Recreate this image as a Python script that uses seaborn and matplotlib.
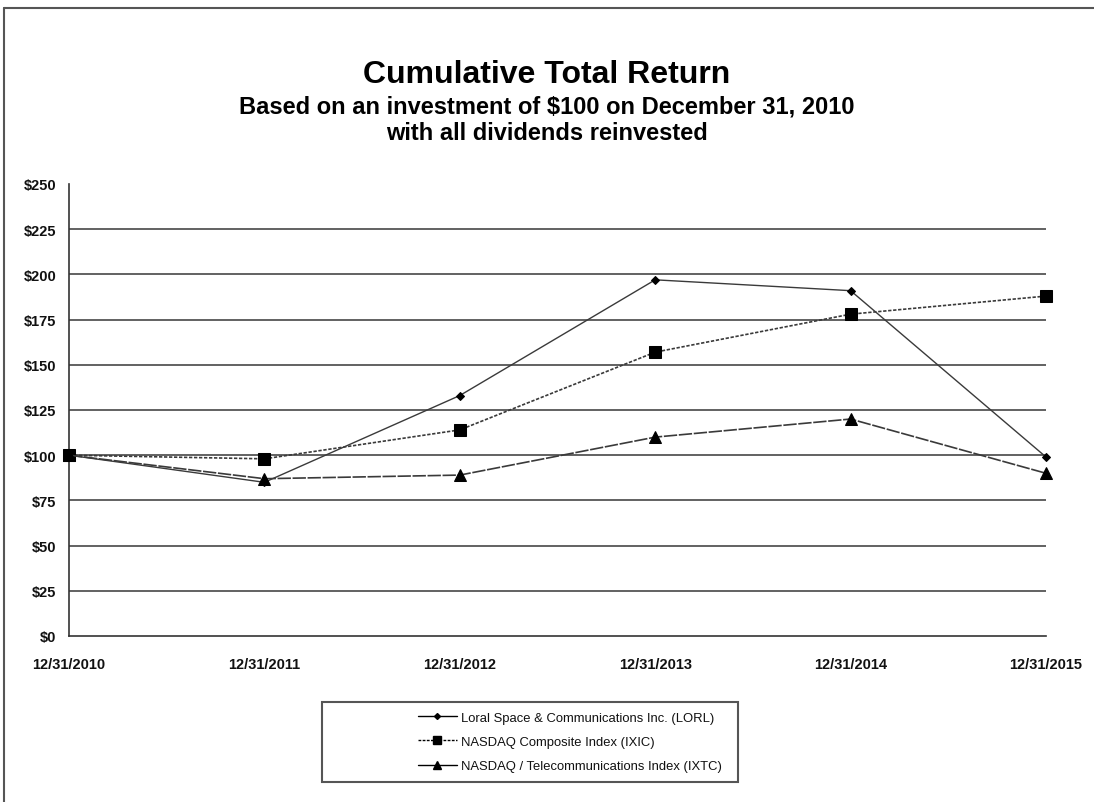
import matplotlib
matplotlib.use("Agg")
import matplotlib.pyplot as plt
import seaborn as sns
import pandas as pd
from matplotlib.patches import Rectangle
from matplotlib.lines import Line2D

dates = ['12/31/2010', '12/31/2011', '12/31/2012', '12/31/2013', '12/31/2014', '12/31/2015']
lorl = [100, 85, 133, 197, 191, 99]
ixic = [100, 98, 114, 157, 178, 188]
ixtc = [100, 87, 89, 110, 120, 90]
names = ['Loral Space & Communications Inc. (LORL)',
         'NASDAQ Composite Index (IXIC)',
         'NASDAQ / Telecommunications Index (IXTC)']
yticks = [0, 25, 50, 75, 100, 125, 150, 175, 200, 225, 250]

sns.set_theme(style="white")
plt.rcParams['font.family'] = ['Liberation Sans', 'DejaVu Sans']
plt.rcParams['text.color'] = 'black'

df = pd.DataFrame({'pos': range(len(dates)), 'LORL': lorl, 'IXIC': ixic, 'IXTC': ixtc})

fig = plt.figure(figsize=(10.94, 8.03), dpi=100)
ax = fig.add_axes([69/1094, 1-637/803, (1046-69)/1094, (637-185)/803])

# gridlines
for v in yticks[1:-1]:
    ax.axhline(v, color='#555555', lw=1.3, zorder=1)

col = '#3a3a3a'
sns.lineplot(data=df, x='pos', y='LORL', ax=ax, color=col, lw=1, marker='D', markersize=4,
             markeredgecolor='black', markerfacecolor='black', zorder=3, clip_on=False)
sns.lineplot(data=df, x='pos', y='IXIC', ax=ax, color=col, lw=1.2, linestyle=(0, (2, 1)), marker='s',
             markersize=8, markeredgecolor='black', markerfacecolor='black', zorder=3, clip_on=False)
sns.lineplot(data=df, x='pos', y='IXTC', ax=ax, color=col, lw=1.2, linestyle=(0, (8, 1)), marker='^',
             markersize=8, markeredgecolor='black', markerfacecolor='black', zorder=3, clip_on=False)

ax.set_xlim(0, len(dates) - 1)
ax.set_ylim(0, 250)
ax.set_xticks(range(len(dates)))
ax.set_xticklabels(dates, fontweight='bold', fontsize=10.5)
ax.set_yticks(yticks)
ax.set_yticklabels(['$' + str(v) for v in yticks], fontweight='bold', fontsize=10.5)
ax.set_xlabel('')
ax.set_ylabel('')
for s in ['top', 'right']:
    ax.spines[s].set_visible(False)
for s in ['left', 'bottom']:
    ax.spines[s].set_color('#333333')
    ax.spines[s].set_linewidth(1.2)
ax.tick_params(axis='both', direction='out', length=5, width=1, color='#333333', labelcolor='#111111')
ax.tick_params(axis='y', pad=4)
ax.tick_params(axis='x', pad=10)

# titles
fig.text(0.5, 1-75/803, 'Cumulative Total Return', ha='center', va='center',
         fontsize=23, fontweight='bold', color='black')
fig.text(0.5, 1-107/803, 'Based on an investment of $100 on December 31, 2010', ha='center',
         va='center', fontsize=17, fontweight='bold', color='black')
fig.text(0.5, 1-133/803, 'with all dividends reinvested', ha='center', va='center',
         fontsize=17, fontweight='bold', color='black')

# outer border (top and left)
fig.add_artist(Line2D([4/1094, 4/1094], [0, 1-9/803], transform=fig.transFigure, color='#555555', lw=1.5))
fig.add_artist(Line2D([4/1094, 1], [1-9/803, 1-9/803], transform=fig.transFigure, color='#555555', lw=1.5))

# legend box
fig.add_artist(Rectangle((322/1094, 1-783/803), (738-322)/1094, 80/803, transform=fig.transFigure,
                         fill=False, edgecolor='#555555', lw=1.5))
handles = [
    Line2D([], [], color='black', lw=1, marker='D', markersize=3),
    Line2D([], [], color='black', lw=1, linestyle=(0, (2, 1)), marker='s', markersize=6),
    Line2D([], [], color='black', lw=1, marker='^', markersize=6),
]
fig.legend(handles, names, loc='upper left', bbox_to_anchor=(406/1094, 1-701/803), frameon=False,
           fontsize=9.4, handlelength=3.0, handletextpad=0.3, labelspacing=0.92, labelcolor='#111111')

fig.savefig('out.png', dpi=100)
